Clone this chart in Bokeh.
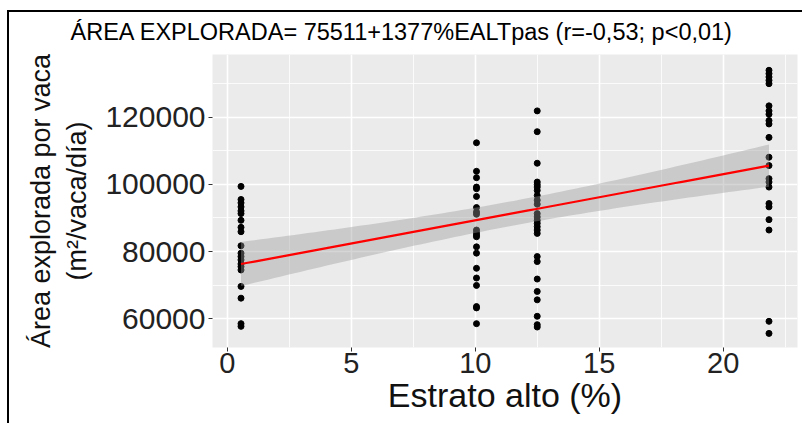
import numpy as np
from bokeh.plotting import figure
from bokeh.models import (ColumnDataSource, FixedTicker, Range1d,
                          BasicTickFormatter, InlineStyleSheet)
from bokeh.embed import file_html
from bokeh.resources import INLINE

# ---------------- data ----------------
TITLE = "ÁREA EXPLORADA= 75511+1377%EALTpas (r=-0,53; p<0,01)"
X_LABEL = "Estrato alto (%)"
Y_LABEL = "Área explorada por vaca\n(m²/vaca/día)"

STRATUM_X = [0.55, 10.05, 12.5, 21.85]

AREA_S1 = [99400, 95500, 94500, 93300, 92100, 91300, 89300, 87200, 85900, 81700,
           79500, 78500, 77500, 76300, 75500, 74500, 69600, 66100, 58500, 57700]
AREA_S2 = [112400, 103900, 102000, 99200, 98700, 96400, 93100, 91800, 91100, 86400,
           85600, 84900, 84400, 81400, 79500, 75000, 72100, 69900, 63600, 63200, 58500]
AREA_S3 = [121900, 115700, 106300, 100700, 99900, 99200, 98200, 96700, 95300, 94100,
           91300, 90300, 89300, 88400, 87400, 86400, 85400, 78500, 77000, 71800,
           68100, 65600, 60700, 58200, 57500]
AREA_S4 = [134000, 133000, 132000, 131000, 130000, 123400, 121900, 120900, 119000,
           118000, 114000, 108100, 105600, 101700, 100700, 99200, 94300, 93300,
           89500, 86400, 59200, 55600]

INTERCEPT = 75511
SLOPE = 1377
T_975 = 1.988  # t quantile for the 95 % band

X_TICKS = [0, 5, 10, 15, 20]
X_MINOR = [2.5, 7.5, 12.5, 17.5, 22.5]
Y_TICKS = [60000, 80000, 100000, 120000]
Y_MINOR = [70000, 90000, 110000, 130000]

# ---------------- build sources ----------------
groups = [AREA_S1, AREA_S2, AREA_S3, AREA_S4]
xs, ys = [], []
for gx, vals in zip(STRATUM_X, groups):
    xs += [gx] * len(vals)
    ys += vals
xs = np.array(xs, dtype=float)
ys = np.array(ys, dtype=float)
pts = ColumnDataSource(dict(x=xs, y=ys))

n = len(xs)
xbar = xs.mean()
sxx = ((xs - xbar) ** 2).sum()
resid = ys - (INTERCEPT + SLOPE * xs)
sigma = np.sqrt((resid ** 2).sum() / (n - 2))
xf = np.linspace(xs.min(), xs.max(), 80)
yf = INTERCEPT + SLOPE * xf
half = T_975 * sigma * np.sqrt(1.0 / n + (xf - xbar) ** 2 / sxx)
fit = ColumnDataSource(dict(x=xf, y=yf, lo=yf - half, hi=yf + half))

FONT = "Liberation Sans"

border_css = InlineStyleSheet(css="""
:host { position: relative; }
:host::after {
  content: "";
  position: absolute;
  left: 7px; top: 10px; right: -20px; bottom: -20px;
  border-top: 2px solid black;
  border-left: 2px solid black;
  pointer-events: none;
}
""")

p = figure(width=802, height=423, output_backend="svg", toolbar_location=None,
           x_range=Range1d(-0.6, 23.0), y_range=Range1d(51400, 138700),
           min_border_left=212, min_border_right=5, min_border_top=54,
           min_border_bottom=76, background_fill_color="#EBEBEB",
           border_fill_color="white", outline_line_color=None,
           stylesheets=[border_css])

p.title.text = TITLE
p.title.align = "left"
p.title.offset = -142
p.title.standoff = 20
p.title.text_font = FONT
p.title.text_font_size = "23.5px"
p.title.text_font_style = "normal"
p.title.text_color = "black"

p.xaxis.ticker = FixedTicker(ticks=X_TICKS, minor_ticks=X_MINOR)
p.yaxis.ticker = FixedTicker(ticks=Y_TICKS, minor_ticks=Y_MINOR)
p.yaxis.formatter = BasicTickFormatter(use_scientific=False)

for ax in (p.xaxis, p.yaxis):
    ax.axis_line_color = None
    ax.major_tick_line_color = "#333333"
    ax.major_tick_in = 0
    ax.major_tick_out = 4
    ax.minor_tick_line_color = None
    ax.major_label_text_font = FONT
    ax.major_label_text_color = "#222222"
    ax.axis_label_text_font = FONT
    ax.axis_label_text_font_style = "normal"
    ax.axis_label_text_color = "#111111"

p.xaxis.major_label_text_font_size = "29px"
p.xaxis.major_label_standoff = 1
p.xaxis.axis_label = X_LABEL
p.xaxis.axis_label_text_font_size = "34px"
p.xaxis.axis_label_standoff = 0

p.yaxis.major_label_text_font_size = "30px"
p.yaxis.major_label_standoff = 3
p.yaxis.axis_label = Y_LABEL
p.yaxis.axis_label_text_font_size = "27px"
p.yaxis.axis_label_standoff = 10

for g in (p.xgrid, p.ygrid):
    g.grid_line_color = "white"
    g.grid_line_width = 1.6
    g.minor_grid_line_color = "white"
    g.minor_grid_line_width = 0.8

p.scatter("x", "y", source=pts, size=6, color="black")
p.varea(x="x", y1="lo", y2="hi", source=fit, fill_color="#999999", fill_alpha=0.4)
p.line("x", "y", source=fit, line_color="#FF0000", line_width=2.2)

open("out.html", "w").write(file_html(p, INLINE))
